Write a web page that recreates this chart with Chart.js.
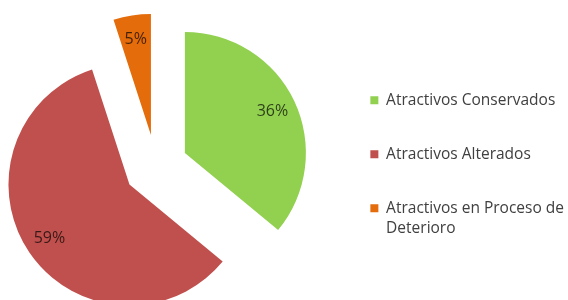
<!DOCTYPE html>
<html>
<head>
<meta charset="utf-8">
<script src="https://cdn.jsdelivr.net/npm/chart.js@4.4.1/dist/chart.umd.min.js"></script>
<style>
  html, body { margin: 0; padding: 0; background: #fff; }
  #wrap { width: 568px; height: 300px; position: relative; }
</style>
</head>
<body>
<div id="wrap"><canvas id="myChart"></canvas></div>
<script>
// Chart data
let categories = ["Atractivos Conservados", "Atractivos Alterados", ["Atractivos en Proceso de", "Deterioro"]];
let percents = [36, 59, 5];
let sliceColors = ["#92D050", "#C0504D", "#E46C0A"];

let explode = 32; // how far each slice gets pulled out from the middle
let pieShiftLeft = 20; // negative left padding gets clamped, so widen the area here

// Let the pie area start a bit left of the canvas so the pie sits more to the left
const shiftPlugin = {
  id: "shiftPie",
  afterLayout(chart) {
    chart.chartArea.left -= pieShiftLeft;
    chart.chartArea.width += pieShiftLeft;
  },
};

// Move every slice out along its middle angle (exploded pie)
const explodePlugin = {
  id: "explode",
  afterDatasetsUpdate(chart) {
    chart.getDatasetMeta(0).data.forEach((arc) => {
      let mid = (arc.startAngle + arc.endAngle) / 2;
      arc.x += Math.cos(mid) * explode;
      arc.y += Math.sin(mid) * explode;
    });
  },
};

// Percent labels inside the slices
const labelPlugin = {
  id: "sliceLabels",
  afterDatasetsDraw(chart) {
    let ctx = chart.ctx;
    let data = chart.data.datasets[0].data;
    let total = data.reduce((a, b) => a + b, 0);
    ctx.save();
    ctx.font = "16px 'Open Sans'";
    ctx.fillStyle = "rgba(0, 0, 0, 0.7)";
    ctx.textAlign = "center";
    ctx.textBaseline = "middle";
    chart.getDatasetMeta(0).data.forEach((arc, i) => {
      let mid = (arc.startAngle + arc.endAngle) / 2;
      let r = arc.outerRadius * 0.8;
      let txt = Math.round((data[i] / total) * 100) + "%";
      ctx.fillText(txt, arc.x + Math.cos(mid) * r, arc.y + Math.sin(mid) * r);
    });
    ctx.restore();
  },
};

const config = {
  type: "pie",
  data: {
    labels: categories,
    datasets: [
      {
        data: percents,
        backgroundColor: sliceColors,
        borderWidth: 0,
      },
    ],
  },
  options: {
    responsive: true,
    maintainAspectRatio: false,
    animation: false,
    radius: 121,
    layout: { padding: { left: 0, right: -6, top: 33, bottom: 0 } },
    plugins: {
      legend: {
        position: "right",
        labels: {
          boxWidth: 8,
          boxHeight: 8,
          padding: 38.5,
          color: "#404040",
          font: { family: "'Open Sans'", size: 15.5, lineHeight: 1.29 },
        },
      },
      tooltip: { enabled: false },
    },
  },
  plugins: [shiftPlugin, explodePlugin, labelPlugin],
};

const myChart = new Chart(document.getElementById("myChart"), config);
</script>
</body>
</html>
